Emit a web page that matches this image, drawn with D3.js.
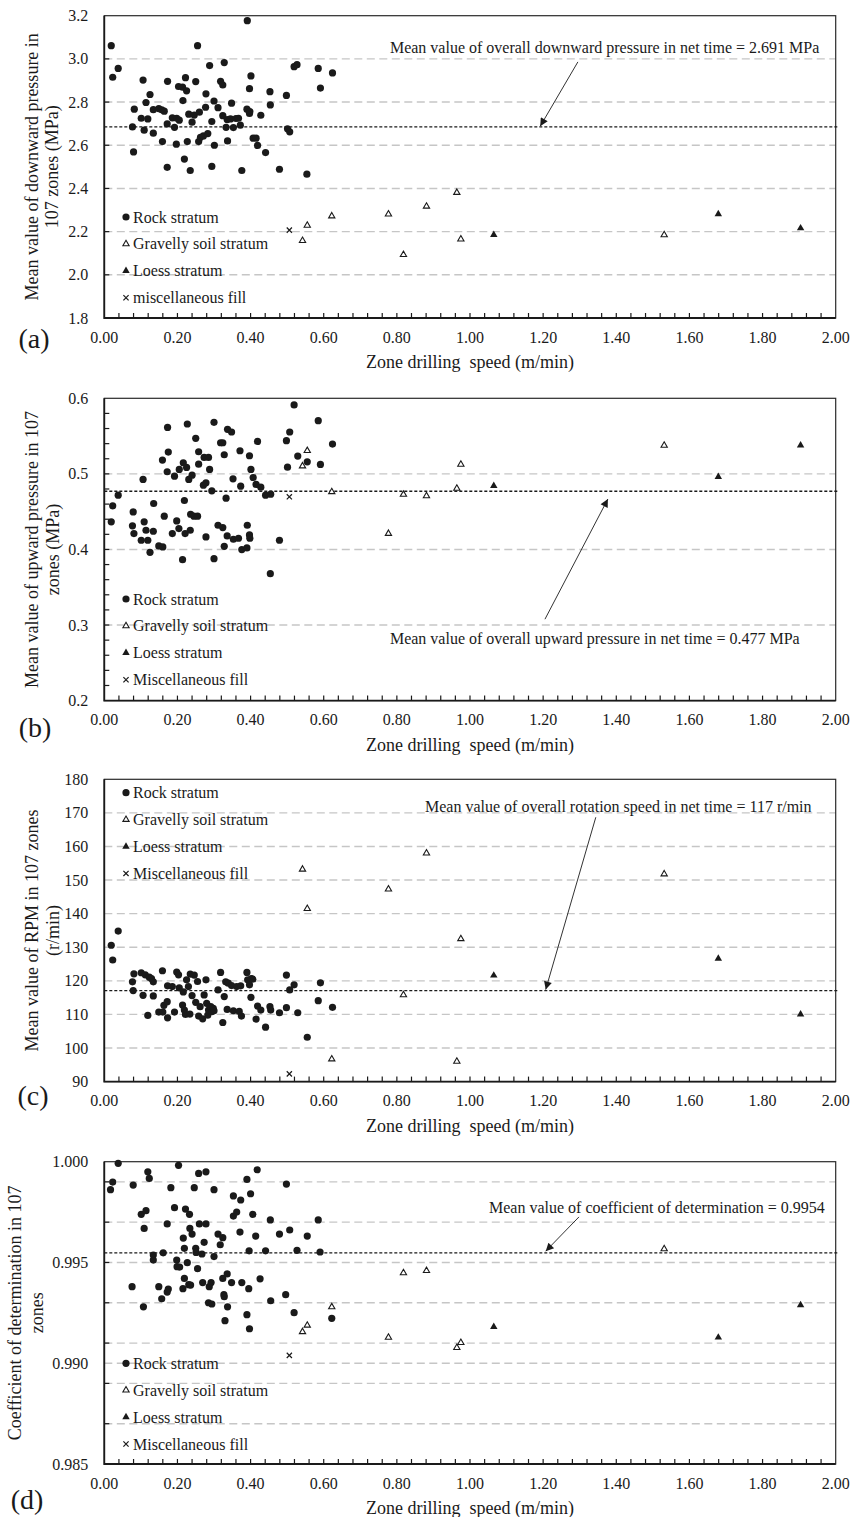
<!DOCTYPE html>
<html>
<head>
<meta charset="utf-8">
<script src="https://cdn.jsdelivr.net/npm/d3@7"></script>
<style>
  body { margin: 0; background: #fff; }
  svg text { font-family: "Times New Roman", "Liberation Serif", serif; fill: #1a1a1a; }
</style>
</head>
<body>
<div id="chart"></div>
<script>
// shared speeds (m/min) of the non-rock zones
const gravelSpeed = [0.542, 0.555, 0.622, 0.777, 0.818, 0.881, 0.964, 0.975, 1.531];
const loessSpeed = [1.065, 1.679, 1.904];
const fillSpeed = [0.506];

// (a) downward pressure (MPa)
const rockDown = [[0.019,3.061],[0.023,2.915],[0.038,2.956],[0.082,2.767],[0.077,2.685],[0.080,2.569],[0.106,2.902],[0.101,2.725],[0.114,2.798],[0.119,2.722],[0.109,2.670],[0.125,2.835],[0.134,2.765],[0.134,2.656],[0.149,2.770],[0.157,2.764],[0.164,2.758],[0.159,2.617],[0.173,2.896],[0.172,2.699],[0.172,2.498],[0.186,2.727],[0.192,2.683],[0.198,2.725],[0.197,2.605],[0.203,2.872],[0.205,2.716],[0.214,2.869],[0.215,2.807],[0.219,2.536],[0.222,2.913],[0.225,2.852],[0.227,2.617],[0.231,2.744],[0.235,2.483],[0.240,2.707],[0.246,2.740],[0.250,2.895],[0.255,3.061],[0.260,2.753],[0.258,2.617],[0.263,2.637],[0.271,2.643],[0.277,2.776],[0.278,2.838],[0.283,2.654],[0.288,2.969],[0.294,2.710],[0.294,2.502],[0.300,2.805],[0.301,2.600],[0.311,2.774],[0.318,2.896],[0.324,2.879],[0.328,2.983],[0.324,2.737],[0.333,2.683],[0.336,2.719],[0.337,2.620],[0.348,2.795],[0.345,2.722],[0.353,2.682],[0.360,2.724],[0.367,2.725],[0.372,2.693],[0.376,2.483],[0.391,3.177],[0.390,2.767],[0.398,2.756],[0.397,2.747],[0.397,2.862],[0.401,2.921],[0.407,2.633],[0.415,2.633],[0.419,2.599],[0.428,2.739],[0.441,2.566],[0.453,2.848],[0.454,2.787],[0.479,2.489],[0.498,2.831],[0.501,2.676],[0.507,2.662],[0.519,2.964],[0.527,2.973],[0.554,2.466],[0.585,2.956],[0.591,2.865],[0.624,2.935]];
const gravelDown = [2.158, 2.229, 2.272, 2.281, 2.093, 2.317, 2.381, 2.165, 2.185];
const loessDown = [2.185, 2.281, 2.216];
const fillDown = [2.207];

// (b) upward pressure (MPa)
const rockUp = [[0.019,0.4365],[0.023,0.4577],[0.038,0.4718],[0.079,0.4497],[0.077,0.4312],[0.081,0.4210],[0.106,0.4926],[0.101,0.4122],[0.109,0.4365],[0.114,0.4254],[0.119,0.4122],[0.125,0.3962],[0.134,0.4241],[0.135,0.4608],[0.149,0.4046],[0.159,0.5182],[0.160,0.4033],[0.164,0.4440],[0.173,0.5615],[0.175,0.5288],[0.172,0.5028],[0.186,0.4210],[0.192,0.4970],[0.198,0.4378],[0.204,0.4276],[0.205,0.5059],[0.214,0.3865],[0.216,0.5147],[0.219,0.4648],[0.221,0.4210],[0.225,0.5085],[0.227,0.5660],[0.231,0.4926],[0.235,0.4254],[0.240,0.4983],[0.236,0.4466],[0.245,0.4440],[0.250,0.5470],[0.255,0.4440],[0.258,0.5293],[0.258,0.5129],[0.271,0.4851],[0.273,0.5218],[0.278,0.4882],[0.278,0.4166],[0.285,0.5218],[0.288,0.5059],[0.294,0.4776],[0.300,0.5682],[0.300,0.3878],[0.311,0.4320],[0.318,0.5412],[0.324,0.5412],[0.324,0.4289],[0.328,0.5253],[0.328,0.4042],[0.333,0.4678],[0.336,0.4179],[0.337,0.5589],[0.348,0.5554],[0.352,0.4935],[0.353,0.4135],[0.367,0.4148],[0.371,0.5306],[0.373,0.4837],[0.376,0.3998],[0.390,0.4020],[0.391,0.4320],[0.397,0.5240],[0.397,0.4192],[0.398,0.4148],[0.401,0.5059],[0.407,0.4952],[0.415,0.4860],[0.419,0.5430],[0.428,0.4824],[0.441,0.4718],[0.454,0.3680],[0.455,0.4731],[0.479,0.4122],[0.498,0.5439],[0.501,0.5089],[0.507,0.5554],[0.519,0.5912],[0.529,0.5235],[0.555,0.5160],[0.585,0.5704],[0.591,0.5125],[0.624,0.5394]];
const gravelUp = [0.5103, 0.5306, 0.4762, 0.4210, 0.4727, 0.4709, 0.4807, 0.5125, 0.5377];
const loessUp = [0.4842, 0.4961, 0.5377];
const fillUp = [0.4696];

// (c) rotation speed (r/min)
const rockRpm = [[0.019,130.6],[0.023,126.2],[0.038,134.8],[0.081,122.1],[0.077,119.7],[0.079,117.1],[0.101,122.4],[0.106,115.7],[0.112,121.8],[0.119,109.7],[0.123,121.1],[0.129,120.7],[0.134,119.7],[0.134,115.5],[0.149,110.7],[0.159,123.0],[0.160,110.7],[0.163,112.7],[0.172,113.8],[0.173,109.0],[0.173,118.5],[0.186,118.3],[0.192,110.7],[0.198,122.6],[0.203,121.8],[0.205,117.9],[0.214,112.8],[0.216,116.7],[0.219,111.3],[0.222,110.0],[0.225,120.3],[0.230,118.3],[0.234,110.1],[0.235,122.0],[0.240,115.6],[0.246,121.7],[0.250,113.6],[0.255,119.8],[0.258,109.5],[0.262,112.3],[0.269,108.7],[0.273,115.8],[0.278,120.3],[0.280,113.3],[0.283,109.8],[0.285,111.3],[0.291,112.3],[0.294,110.8],[0.298,111.8],[0.300,111.1],[0.311,117.3],[0.318,122.5],[0.324,107.6],[0.328,115.3],[0.332,119.7],[0.336,111.5],[0.339,119.3],[0.348,118.6],[0.353,111.1],[0.362,118.3],[0.369,110.9],[0.375,109.5],[0.373,118.5],[0.390,122.5],[0.392,120.3],[0.397,118.8],[0.402,120.7],[0.406,120.5],[0.401,115.1],[0.415,108.6],[0.419,112.5],[0.428,111.3],[0.441,106.2],[0.453,112.3],[0.455,111.3],[0.479,110.5],[0.498,121.7],[0.498,112.0],[0.507,117.3],[0.519,118.8],[0.529,110.5],[0.555,103.2],[0.585,114.1],[0.591,119.4],[0.624,112.1]];
const gravelRpm = [153.2, 141.5, 96.7, 147.3, 115.8, 158.0, 96.0, 132.5, 151.8];
const loessRpm = [121.6, 126.6, 110.0];
const fillRpm = [92.3];

// (d) coefficient of determination
const rockR2 = [[0.017,0.99861],[0.023,0.99899],[0.038,0.99992],[0.079,0.99884],[0.076,0.99380],[0.101,0.99739],[0.107,0.99280],[0.114,0.99757],[0.109,0.99669],[0.119,0.99950],[0.123,0.99917],[0.134,0.99537],[0.134,0.99512],[0.149,0.99380],[0.157,0.99320],[0.161,0.99548],[0.172,0.99691],[0.172,0.99353],[0.175,0.99368],[0.182,0.99871],[0.192,0.99772],[0.198,0.99512],[0.199,0.99479],[0.203,0.99982],[0.206,0.99477],[0.215,0.99370],[0.219,0.99421],[0.216,0.99621],[0.219,0.99570],[0.222,0.99765],[0.227,0.99499],[0.231,0.99390],[0.233,0.99739],[0.236,0.99388],[0.234,0.99669],[0.240,0.99641],[0.246,0.99871],[0.250,0.99570],[0.251,0.99550],[0.255,0.99469],[0.258,0.99942],[0.260,0.99691],[0.267,0.99542],[0.269,0.99400],[0.273,0.99600],[0.278,0.99950],[0.278,0.99691],[0.285,0.99300],[0.287,0.99380],[0.292,0.99400],[0.294,0.99294],[0.300,0.99861],[0.300,0.99529],[0.311,0.99641],[0.317,0.99588],[0.324,0.99623],[0.324,0.99421],[0.327,0.99340],[0.328,0.99330],[0.330,0.99211],[0.336,0.99443],[0.337,0.99280],[0.348,0.99400],[0.353,0.99730],[0.353,0.99830],[0.362,0.99750],[0.371,0.99651],[0.373,0.99810],[0.376,0.99400],[0.390,0.99241],[0.390,0.99912],[0.396,0.99558],[0.395,0.99370],[0.397,0.99171],[0.400,0.99841],[0.406,0.99739],[0.414,0.99631],[0.418,0.99960],[0.426,0.99419],[0.441,0.99558],[0.454,0.99711],[0.455,0.99310],[0.479,0.99641],[0.496,0.99340],[0.498,0.99889],[0.507,0.99661],[0.519,0.99251],[0.527,0.99560],[0.555,0.99631],[0.585,0.99711],[0.590,0.99552],[0.622,0.99223]];
const gravelR2 = [0.99156, 0.99188, 0.99279, 0.99128, 0.99448, 0.99459, 0.99077, 0.99102, 0.99567];
const loessR2 = [0.99181, 0.99128, 0.99289];
const fillR2 = [0.99039];

// axis ticks and labels
const xTicks = [0, 0.2, 0.4, 0.6, 0.8, 1.0, 1.2, 1.4, 1.6, 1.8, 2.0];
const legendNames = ['Rock stratum', 'Gravelly soil stratum', 'Loess stratum', 'Miscellaneous fill'];
const xTitle = 'Zone drilling  speed (m/min)';

const panels = [
    {tag:'(a)', top:15.7, domain:[1.8,3.2], ticks:d3.range(1.8,3.21,0.2), fmt:d3.format('.1f'),
     grid:[2.0,2.2,2.4,2.6,2.8,3.0], minor:[2.0,2.2,2.4,2.6,2.8,3.0],
     rock:rockDown, gravel:gravelDown, loess:loessDown, fill:fillDown, mean:2.685,
     title:['Mean value of downward pressure in','107 zones (MPa)'], titleX:[32,52],
     legendTop:201.3, legendLast:'miscellaneous fill',
     note:'Mean value of overall downward pressure in net time = 2.691 MPa', noteAt:[0.781,3.055], arrow:[[1.295,2.986],[1.192,2.688]],
     tagAt:[34,20]},
    {tag:'(b)', top:398.3, domain:[0.2,0.6], ticks:d3.range(0.2,0.61,0.1), fmt:d3.format('.1f'),
     grid:[0.3,0.4,0.5], minor:d3.range(0.22,0.59,0.02),
     rock:rockUp, gravel:gravelUp, loess:loessUp, fill:fillUp, mean:0.477,
     title:['Mean value of upward pressure in 107','zones (MPa)'], titleX:[32,53],
     legendTop:200.7,
     note:'Mean value of overall upward pressure in net time = 0.477 MPa', noteAt:[0.781,0.2825], arrow:[[1.205,0.3077],[1.377,0.4667]],
     tagAt:[35,27]},
    {tag:'(c)', top:779.3, domain:[90,180], ticks:d3.range(90,181,10), fmt:d3.format('d'),
     grid:d3.range(100,171,10), minor:[],
     rock:rockRpm, gravel:gravelRpm, loess:loessRpm, fill:fillRpm, mean:117.1,
     title:['Mean value of RPM in 107 zones','(r/min)'], titleX:[32,53],
     legendTop:13.4,
     note:'Mean value of overall rotation speed in net time = 117 r/min', noteAt:[0.877,171.85], arrow:[[1.344,168.7],[1.207,117.4]],
     tagAt:[33,14]},
    {tag:'(d)', top:1161.7, domain:[0.985,1.0], ticks:[0.985,0.990,0.995,1.0], fmt:d3.format('.3f'),
     grid:[0.987,0.989,0.990,0.991,0.993,0.995,0.997,0.999], minor:[0.987,0.989,0.991,0.993,0.995,0.997,0.999],
     rock:rockR2, gravel:gravelR2, loess:loessR2, fill:fillR2, mean:0.99548,
     title:['Coefficient of determination in 107','zones'], titleX:[15,37],
     legendTop:201.6,
     note:'Mean value of coefficient of determination = 0.9954', noteAt:[1.052,0.99775], arrow:[[1.298,0.99726],[1.207,0.99556]],
     tagAt:[27,35]}
];

const width = 850, height = 1517;
const plotL = 104.3, plotR = 835.7, plotH = 302.3;
const ink = '#1a1a1a';

const svg = d3.select('#chart').append('svg')
    .attr('width', width)
    .attr('height', height);

const defs = svg.append('defs');
defs.append('marker')
    .attr('id', 'head')
    .attr('viewBox', '0 0 10 10')
    .attr('refX', 10).attr('refY', 5)
    .attr('markerWidth', 10).attr('markerHeight', 8)
    .attr('markerUnits', 'userSpaceOnUse')
    .attr('orient', 'auto')
    .append('path')
    .attr('d', 'M0,0L10,5L0,10z')
    .attr('fill', ink);

const x = d3.scaleLinear().domain([0, 2]).range([plotL, plotR]);

const triOpen = d3.symbol(d3.symbolTriangle, 17);
const triFill = d3.symbol(d3.symbolTriangle, 24);

// draw one marker of a given stratum at (cx, cy)
function drawMark(g, kind, cx, cy) {
    if (kind === 0) {
        g.append('circle').attr('cx', cx).attr('cy', cy).attr('r', 3.6).attr('fill', ink);
    } else if (kind === 1) {
        g.append('path').attr('d', triOpen()).attr('transform', `translate(${cx},${cy})`)
            .attr('fill', '#fff').attr('stroke', ink).attr('stroke-width', 1.1);
    } else if (kind === 2) {
        g.append('path').attr('d', triFill()).attr('transform', `translate(${cx},${cy})`)
            .attr('fill', ink);
    } else {
        const s = 2.6;
        g.append('path')
            .attr('d', `M${cx-s},${cy-s}L${cx+s},${cy+s}M${cx-s},${cy+s}L${cx+s},${cy-s}`)
            .attr('stroke', ink).attr('stroke-width', 1.2).attr('fill', 'none');
    }
}

panels.forEach(p => {
    const top = p.top, bottom = p.top + plotH;
    const y = d3.scaleLinear().domain(p.domain).range([bottom, top]);
    const g = svg.append('g').attr('class', 'panel');

    // gridlines
    g.selectAll('.grid').data(p.grid).enter().append('line')
        .attr('x1', plotL).attr('x2', plotR)
        .attr('y1', d => y(d)).attr('y2', d => y(d))
        .attr('stroke', '#c6c6c6').attr('stroke-width', 1.4)
        .attr('stroke-dasharray', '8,4.5');

    // frame
    g.append('rect').attr('x', plotL).attr('y', top)
        .attr('width', plotR - plotL).attr('height', plotH)
        .attr('fill', 'none').attr('stroke', '#2a2a2a').attr('stroke-width', 1.2);
    g.append('path')
        .attr('d', `M${plotL},${top}V${bottom}H${plotR}`)
        .attr('fill', 'none').attr('stroke', ink).attr('stroke-width', 1.8);

    // x ticks inward every 0.04
    g.selectAll('.xt').data(d3.range(0.04, 1.99, 0.04)).enter().append('line')
        .attr('x1', d => x(d)).attr('x2', d => x(d))
        .attr('y1', bottom).attr('y2', bottom - 5)
        .attr('stroke', ink).attr('stroke-width', 1.2);

    // y ticks inward
    g.selectAll('.yt').data(p.minor).enter().append('line')
        .attr('x1', plotL).attr('x2', plotL + 5)
        .attr('y1', d => y(d)).attr('y2', d => y(d))
        .attr('stroke', ink).attr('stroke-width', 1.2);

    // tick labels
    g.selectAll('.xl').data(xTicks).enter().append('text')
        .attr('x', d => x(d)).attr('y', bottom + 19)
        .attr('text-anchor', 'middle').attr('dominant-baseline', 'central')
        .attr('font-size', 16)
        .text(d => d3.format('.2f')(d));
    g.selectAll('.yl').data(p.ticks).enter().append('text')
        .attr('x', plotL - 16).attr('y', d => y(d))
        .attr('text-anchor', 'end').attr('dominant-baseline', 'central')
        .attr('font-size', 16)
        .text(d => p.fmt(d));

    // axis titles
    g.append('text')
        .attr('x', x(1)).attr('y', bottom + 44)
        .attr('text-anchor', 'middle').attr('dominant-baseline', 'central')
        .attr('font-size', 18)
        .style('white-space', 'pre')
        .text(xTitle);
    p.title.forEach((t, i) => {
        g.append('text')
            .attr('transform', `translate(${p.titleX[i]},${(top + bottom) / 2}) rotate(-90)`)
            .attr('text-anchor', 'middle').attr('dominant-baseline', 'central')
            .attr('font-size', 18)
            .text(t);
    });

    // panel tag
    g.append('text')
        .attr('x', p.tagAt[0]).attr('y', bottom + p.tagAt[1])
        .attr('text-anchor', 'middle').attr('dominant-baseline', 'central')
        .attr('font-size', 28)
        .text(p.tag);

    // mean line
    g.append('line')
        .attr('x1', plotL).attr('x2', plotR + 2)
        .attr('y1', y(p.mean)).attr('y2', y(p.mean))
        .attr('stroke', ink).attr('stroke-width', 1.3)
        .attr('stroke-dasharray', '3,2');

    // points
    const pts = g.append('g').attr('class', 'points');
    p.rock.forEach(d => drawMark(pts, 0, x(d[0]), y(d[1])));
    p.gravel.forEach((v, i) => drawMark(pts, 1, x(gravelSpeed[i]), y(v)));
    p.loess.forEach((v, i) => drawMark(pts, 2, x(loessSpeed[i]), y(v)));
    p.fill.forEach((v, i) => drawMark(pts, 3, x(fillSpeed[i]), y(v)));

    // legend
    const names = legendNames.slice();
    if (p.legendLast) names[3] = p.legendLast;
    names.forEach((n, i) => {
        const ly = top + p.legendTop + i * 26.9;
        drawMark(g, i, 126, ly);
        g.append('text').attr('x', 133).attr('y', ly)
            .attr('dominant-baseline', 'central').attr('font-size', 16)
            .text(n);
    });

    // annotation
    g.append('text')
        .attr('x', x(p.noteAt[0])).attr('y', y(p.noteAt[1]))
        .attr('dominant-baseline', 'central').attr('font-size', 16)
        .text(p.note);
    g.append('line')
        .attr('x1', x(p.arrow[0][0])).attr('y1', y(p.arrow[0][1]))
        .attr('x2', x(p.arrow[1][0])).attr('y2', y(p.arrow[1][1]))
        .attr('stroke', '#333').attr('stroke-width', 1)
        .attr('marker-end', 'url(#head)');
});
</script>
</body>
</html>
